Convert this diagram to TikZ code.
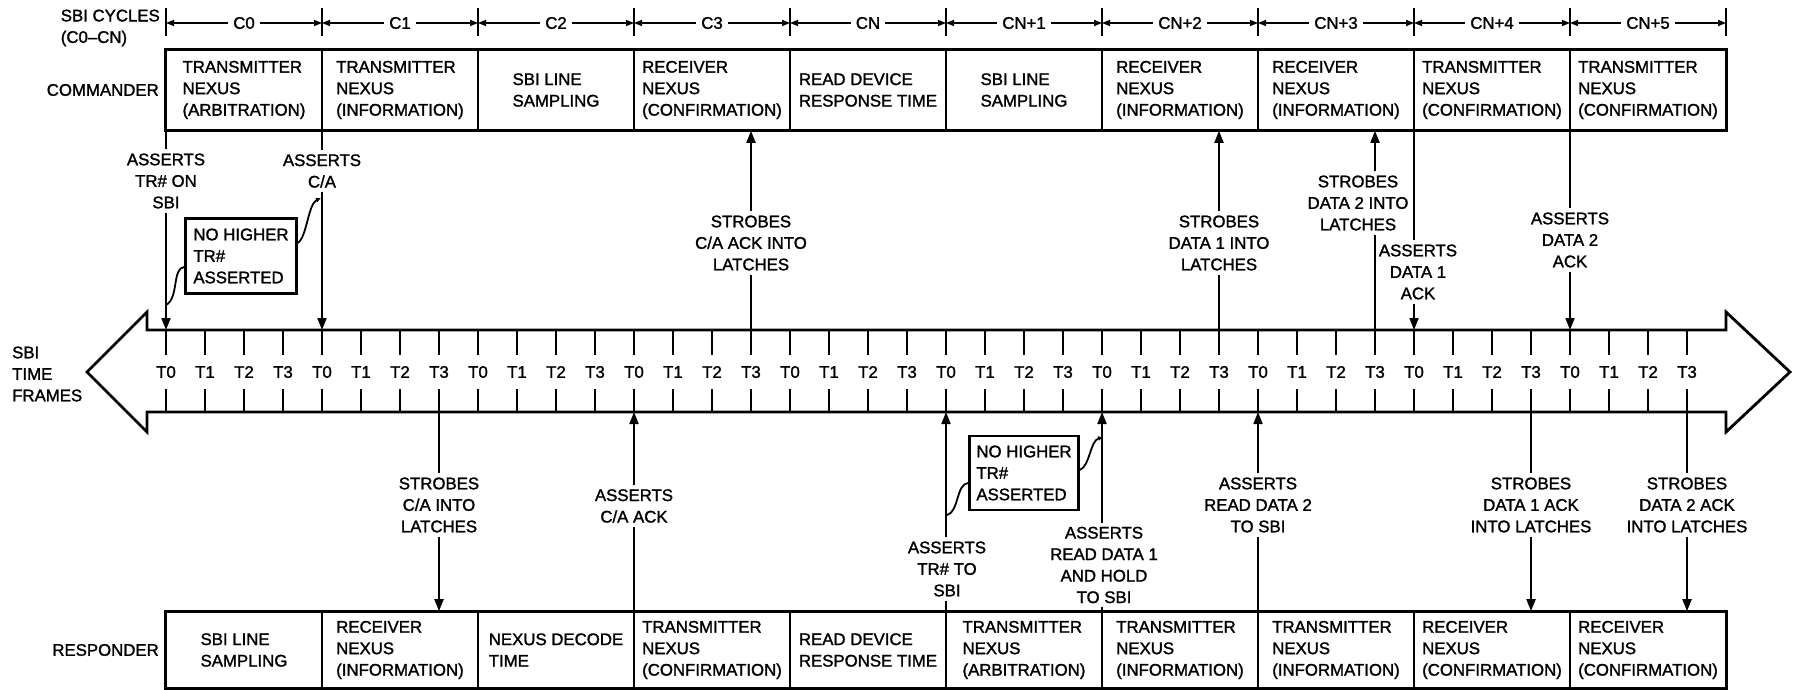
\documentclass[tikz,border=0pt]{standalone}
\usepackage{fontspec}
\setmainfont{Liberation Sans}[FakeBold=1.5]
\usetikzlibrary{arrows.meta}

\begin{document}
\begin{tikzpicture}[x=1pt,y=-1pt,
  txt/.style={font=\fontsize{16.8}{21.5}\selectfont,inner sep=3pt},
  celda/.style={txt,draw,line width=1.6pt,minimum width=156pt,align=left},
  aviso/.style={txt,draw,line width=2.6pt,align=left,minimum width=111pt,minimum height=75pt},
  nota/.style={txt,align=center,inner sep=4pt},
  linea/.style={line width=1.8pt},
  flecha/.style={linea,-{Triangle[length=12pt,width=9pt]}},
  ciclo/.style={line width=1.4pt,-{Triangle[length=8pt,width=6pt]}},
  cuerpo/.style={line width=2.8pt,line join=miter},
  marca/.style={line width=1.8pt}]
\useasboundingbox (0,0) rectangle (1794,690);

% Ciclos SBI
\node[txt,align=left,anchor=east] (ciclos) at (163,28) {SBI CYCLES\\(C0–CN)};
\foreach \k in {0,...,10} {
  \coordinate (cb\k) at ({166+156*\k},23);
  \draw[marca] (cb\k) ++(0,-15) -- ++(0,28);
}
\foreach \c [count=\k from 0] in {C0,C1,C2,C3,CN,CN+1,CN+2,CN+3,CN+4,CN+5} {
  \pgfmathtruncatemacro\kk{\k+1}
  \node[txt,inner sep=5pt] (cy\k) at ({244+156*\k},23) {\c};
  \draw[ciclo] (cy\k.west) -- (cb\k);
  \draw[ciclo] (cy\k.east) -- (cb\kk);
}

% Commander
\node[txt,anchor=east] (cmd) at (162,90) {COMMANDER};
\foreach \txt [count=\k from 0] in {{TRANSMITTER\\NEXUS\\(ARBITRATION)},{TRANSMITTER\\NEXUS\\(INFORMATION)},
    {SBI LINE\\SAMPLING},{RECEIVER\\NEXUS\\(CONFIRMATION)},{READ DEVICE\\RESPONSE TIME},
    {SBI LINE\\SAMPLING},{RECEIVER\\NEXUS\\(INFORMATION)},{RECEIVER\\NEXUS\\(INFORMATION)},
    {TRANSMITTER\\NEXUS\\(CONFIRMATION)},{TRANSMITTER\\NEXUS\\(CONFIRMATION)}}
  \node[celda,minimum height=80pt] (cm\k) at ({244+156*\k},90) {\txt};
\draw[line width=2.8pt] (cm0.north west) rectangle (cm9.south east);

% Responder
\node[txt,anchor=east] (rsp) at (162,650) {RESPONDER};
\foreach \txt [count=\k from 0] in {{SBI LINE\\SAMPLING},{RECEIVER\\NEXUS\\(INFORMATION)},
    {NEXUS DECODE\\TIME},{TRANSMITTER\\NEXUS\\(CONFIRMATION)},{READ DEVICE\\RESPONSE TIME},
    {TRANSMITTER\\NEXUS\\(ARBITRATION)},{TRANSMITTER\\NEXUS\\(INFORMATION)},{TRANSMITTER\\NEXUS\\(INFORMATION)},
    {RECEIVER\\NEXUS\\(CONFIRMATION)},{RECEIVER\\NEXUS\\(CONFIRMATION)}}
  \node[celda,minimum height=76pt] (rs\k) at ({244+156*\k},650) {\txt};
\draw[line width=2.8pt] (rs0.north west) rectangle (rs9.south east);

% Flecha de tramas de tiempo
\node[txt,align=left,anchor=west] (tramas) at (9,374) {SBI\\TIME\\FRAMES};
\draw[cuerpo] (147,330) -- (147,312) -- (87,372) -- (147,432) -- (147,412) -- (1726,412)
  -- (1726,432) -- (1790,372) -- (1726,312) -- (1726,330) -- cycle;
\foreach \i in {0,...,39} {
  \pgfmathtruncatemacro\j{mod(\i,4)}
  \coordinate (t\i) at ({166+39*\i},330);
  \coordinate (b\i) at ({166+39*\i},412);
  \draw[marca] (t\i) -- ++(0,25);
  \draw[marca] (b\i) -- ++(0,-23);
  \node[txt] (tl\i) at ({166+39*\i},372) {T\j};
}

% Commander -> SBI
\node[nota] (a0) at (166,181) {ASSERTS\\TR\# ON\\SBI};
\draw[linea] (t0 |- cm0.south) -- (a0.north);
\draw[flecha] (a0.south) -- (t0);
\node[nota] (a1) at (322,171) {ASSERTS\\C/A};
\draw[linea] (t4 |- cm1.south) -- (a1.north);
\draw[flecha] (a1.south) -- (t4);
\node[nota] (a2) at (751,243) {STROBES\\C/A ACK INTO\\LATCHES};
\draw[flecha] (a2.north) -- (t15 |- cm3.south);
\draw[linea] (a2.south) -- (t15);
\node[nota] (a3) at (1219,243) {STROBES\\DATA 1 INTO\\LATCHES};
\draw[flecha] (a3.north) -- (t27 |- cm6.south);
\draw[linea] (a3.south) -- (t27);
\node[nota] (a4) at (1358,203) {STROBES\\DATA 2 INTO\\LATCHES};
\draw[flecha] (a4.north -| t31) -- (t31 |- cm7.south);
\draw[linea] (a4.south -| t31) -- (t31);
\node[nota] (a5) at (1418,272) {ASSERTS\\DATA 1\\ACK};
\draw[linea] (t32 |- cm8.south) -- (a5.north -| t32);
\draw[flecha] (a5.south -| t32) -- (t32);
\node[nota] (a6) at (1570,240) {ASSERTS\\DATA 2\\ACK};
\draw[linea] (t36 |- cm9.south) -- (a6.north);
\draw[flecha] (a6.south) -- (t36);

% Responder <-> SBI
\node[nota] (n0) at (439,505) {STROBES\\C/A INTO\\LATCHES};
\draw[linea] (b7) -- (n0.north);
\draw[flecha] (n0.south) -- (b7 |- rs1.north);
\node[nota] (n1) at (634,506) {ASSERTS\\C/A ACK};
\draw[linea] (b12 |- rs3.north) -- (n1.south);
\draw[flecha] (n1.north) -- (b12);
\node[nota] (n2) at (947,569) {ASSERTS\\TR\# TO\\SBI};
\draw[linea] (b20 |- rs5.north) -- (n2.south -| b20);
\draw[flecha] (n2.north -| b20) -- (b20);
\node[nota] (n3) at (1104,565) {ASSERTS\\READ DATA 1\\AND HOLD\\TO SBI};
\draw[linea] (b24 |- rs6.north) -- (n3.south -| b24);
\draw[flecha] (n3.north -| b24) -- (b24);
\node[nota] (n4) at (1258,505) {ASSERTS\\READ DATA 2\\TO SBI};
\draw[linea] (b28 |- rs7.north) -- (n4.south);
\draw[flecha] (n4.north) -- (b28);
\node[nota] (n5) at (1531,505) {STROBES\\DATA 1 ACK\\INTO LATCHES};
\draw[linea] (b35) -- (n5.north);
\draw[flecha] (n5.south) -- (b35 |- rs8.north);
\node[nota] (n6) at (1687,505) {STROBES\\DATA 2 ACK\\INTO LATCHES};
\draw[linea] (b39) -- (n6.north);
\draw[flecha] (n6.south) -- (b39 |- rs9.north);

% Avisos "no higher"
\node[aviso] (nh1) at (241,256) {NO HIGHER\\TR\#\\ASSERTED};
\coordinate (e1) at (166,305);
\coordinate (e2) at (321,198);
\draw[linea] ([yshift=-11pt]nh1.west) .. controls (172,268) and (179,298) .. (e1);
\draw[linea,-{Latex[length=5pt,width=5pt]}] ([yshift=13pt]nh1.east) .. controls (307,237) and (308,204) .. (e2);
\node[aviso,minimum width=109pt,minimum height=74pt] (nh2) at (1024,473) {NO HIGHER\\TR\#\\ASSERTED};
\coordinate (e3) at (947,515);
\coordinate (e4) at (1103,437);
\draw[linea] ([yshift=-10pt]nh2.west) .. controls (956,484) and (959,512) .. (e3);
\draw[linea,-{Latex[length=5pt,width=5pt]}] ([yshift=3pt]nh2.east) .. controls (1090,466) and (1090,441) .. (e4);
\end{tikzpicture}
\end{document}
